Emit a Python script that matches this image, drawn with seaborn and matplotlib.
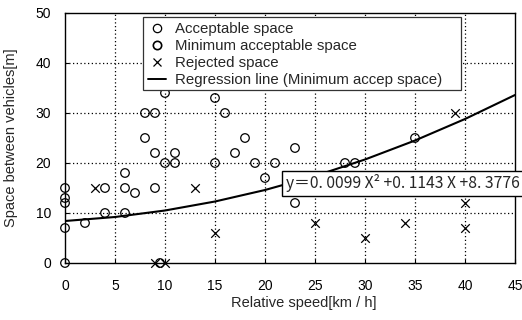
import matplotlib
matplotlib.use("Agg")
import matplotlib.pyplot as plt
import seaborn as sns
from matplotlib.lines import Line2D
from matplotlib.patches import Rectangle

# ---- data ----
acc_x = [0, 0, 0, 0, 4, 6, 6, 8, 8, 9, 9, 10, 10, 11, 11, 9.5, 15, 16, 15, 17, 18, 19, 21, 23]
acc_y = [0, 12, 13, 15, 15, 18, 15, 25, 30, 30, 22, 34, 20, 22, 20, 0, 33, 30, 20, 22, 25, 20, 20, 23]

min_x = [0, 2, 4, 6, 7, 9, 20, 23, 28, 29, 35]
min_y = [7, 8, 10, 10, 14, 15, 17, 12, 20, 20, 25]

rej_x = [3, 13, 15, 9, 10, 25, 30, 34, 39, 40, 40]
rej_y = [15, 15, 6, 0, 0, 8, 5, 8, 30, 12, 7]

curve_x = [0, 5, 10, 15, 20, 25, 30, 35, 40, 45]
curve_y = [8.4, 9.2, 10.5, 12.3, 14.6, 17.4, 20.7, 24.5, 28.8, 33.6]

x_ticks = [0, 5, 10, 15, 20, 25, 30, 35, 40, 45]
y_ticks = [0, 10, 20, 30, 40, 50]

legend_labels = ["Acceptable space", "Minimum acceptable space", "Rejected space",
                 "Regression line (Minimum accep space)"]
equation = "y\uff1d0. 0099 X\u00b2 +0. 1143 X +8. 3776"

# ---- style ----
sns.set_style("ticks")
plt.rcParams["font.family"] = ["Liberation Sans", "DejaVu Sans"]

fig = plt.figure(figsize=(5.22, 3.2), dpi=100)
ax = fig.add_axes([65 / 522, 57 / 320, 450 / 522, 250 / 320])

sns.lineplot(x=curve_x, y=curve_y, ax=ax, color="black", lw=1.5, sort=False, zorder=3)
sns.scatterplot(x=acc_x, y=acc_y, ax=ax, marker="o", s=38, facecolor="none",
                edgecolor="black", linewidth=0.9, clip_on=False, zorder=4, legend=False)
sns.scatterplot(x=min_x, y=min_y, ax=ax, marker="o", s=38, facecolor="none",
                edgecolor="black", linewidth=0.9, clip_on=False, zorder=4, legend=False)
sns.scatterplot(x=rej_x, y=rej_y, ax=ax, marker="x", s=38, color="black",
                linewidth=0.9, clip_on=False, zorder=4, legend=False)

ax.set_xlim(0, 45)
ax.set_ylim(0, 50)
ax.set_xticks(x_ticks)
ax.set_yticks(y_ticks)
ax.tick_params(direction="in", length=3, width=0.8, labelsize=10, colors="black")
ax.tick_params(axis="x", pad=11.5)
ax.tick_params(axis="y", pad=10)

for v in x_ticks[1:-1]:
    ax.axvline(v, color="black", lw=0.9, ls=(0, (1, 2)), zorder=1)
for v in y_ticks[1:-1]:
    ax.axhline(v, color="black", lw=0.9, ls=(0, (1, 2)), zorder=1)

for s in ax.spines.values():
    s.set_visible(True)
    s.set_linewidth(1.0)
    s.set_color("black")

ax.set_xlabel("Relative speed[km / h]", fontsize=10.5)
ax.xaxis.set_label_coords(0.53, -0.13)
ax.set_ylabel("Space between vehicles[m]", fontsize=10.5)
ax.yaxis.set_label_coords(-0.105, 0.5)

# legend frame drawn as a plain rectangle (wider than the text, as in the reference)
frame = Rectangle((0.1733, 0.692), 0.7067, 0.292, transform=ax.transAxes,
                  facecolor="white", edgecolor="#333333", linewidth=0.9,
                  zorder=5, clip_on=False)
ax.add_artist(frame)

handles = [
    Line2D([], [], marker="o", ls="none", mfc="none", mec="black", ms=6, mew=0.9),
    Line2D([], [], marker="o", ls="none", mfc="none", mec="black", ms=6, mew=1.2),
    Line2D([], [], marker="x", ls="none", color="black", ms=6, mew=0.9),
    Line2D([], [], color="black", lw=1.4),
]
leg = ax.legend(handles, legend_labels, loc="upper left", bbox_to_anchor=(0.173, 0.985),
                borderaxespad=0, fontsize=10.8, frameon=False,
                handlelength=1.2, handletextpad=0.6, labelspacing=0.2,
                borderpad=0.35)
leg.set_zorder(6)

ax.text(22.1, 15.9, equation, fontsize=11.3, va="center", ha="left",
        family=["Noto Sans CJK JP", "DejaVu Sans"], zorder=7, clip_on=False,
        bbox=dict(boxstyle="square,pad=0.25", fc="white", ec="black", lw=1.0))

fig.savefig("out.png", dpi=100)
